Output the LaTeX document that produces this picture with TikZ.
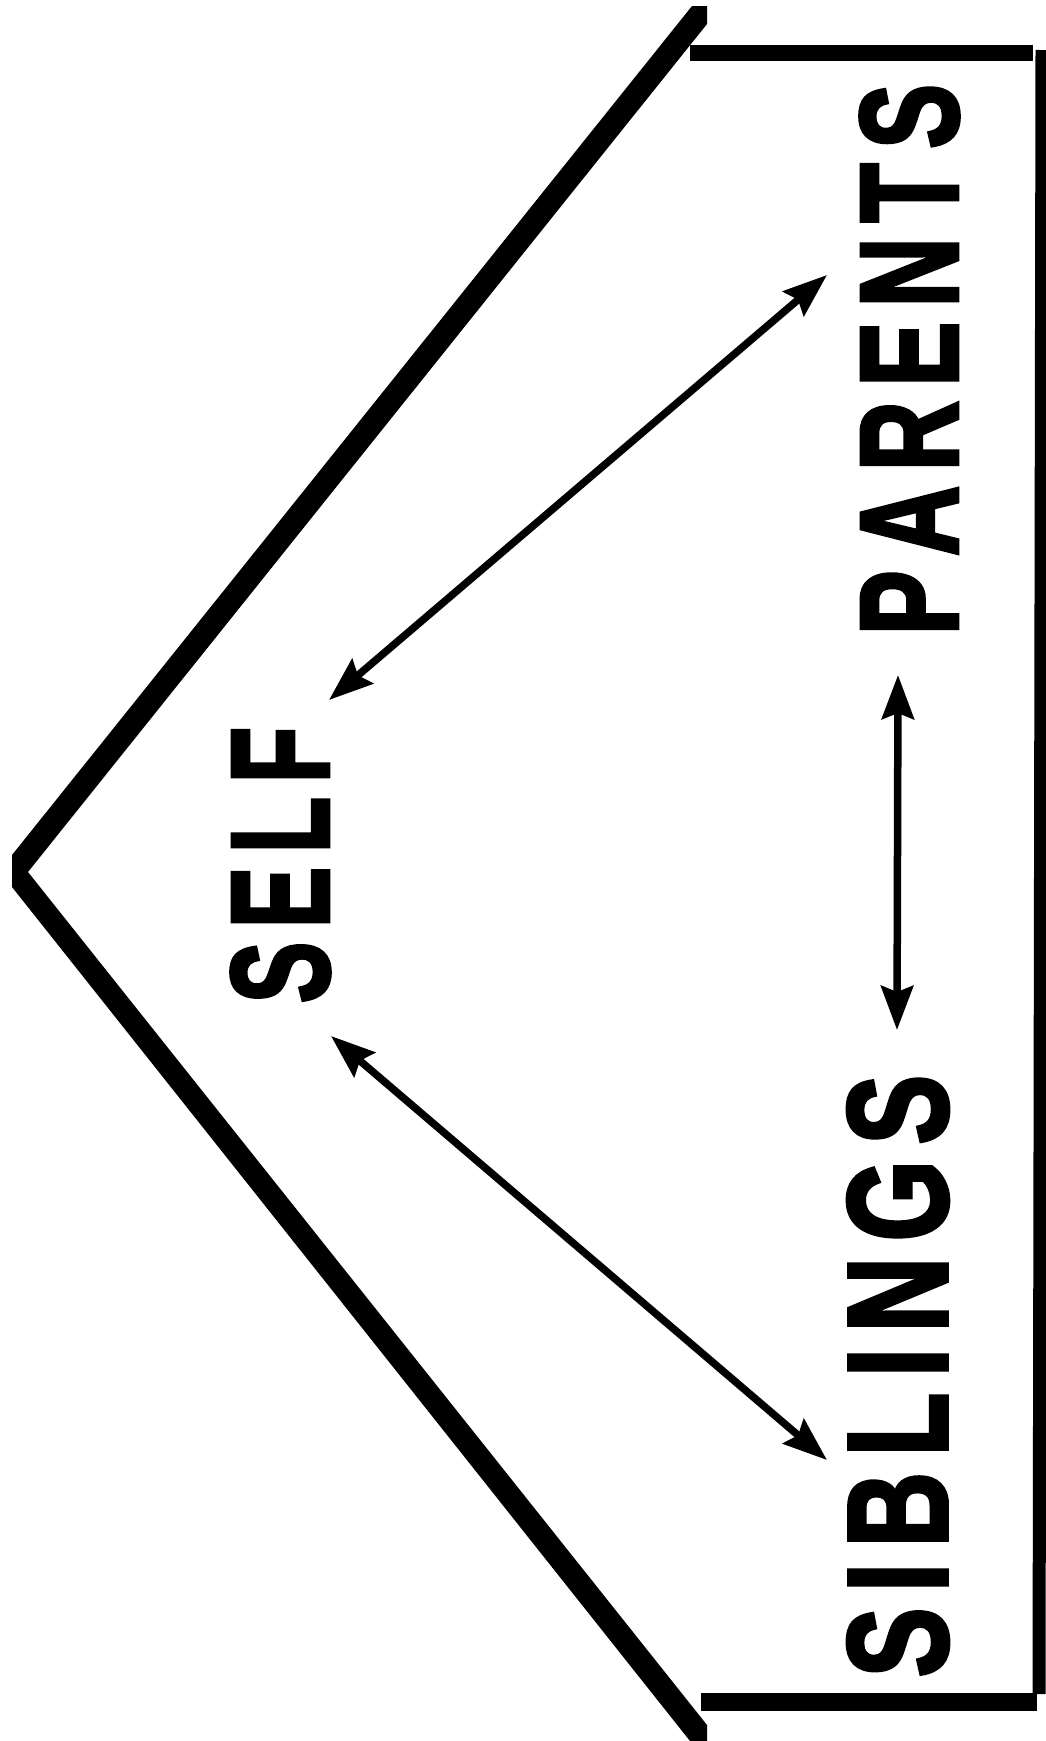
\documentclass[tikz,border=0pt]{standalone}
\usepackage{fontspec}
\usepackage{graphicx}
\usetikzlibrary{arrows.meta}
\newfontfamily\signfont{Liberation Sans}[FakeBold=3]
\newcommand{\gp}{\kern.15em}
\definecolor{ink}{HTML}{000000}

\begin{document}
\begin{tikzpicture}[x=1pt, y=-1pt,
    word/.style={font=\signfont\bfseries, text=ink, inner sep=0pt, rotate=90},
    link/.style={ink, line width=7.5pt,
      {Stealth[length=44pt,width=32pt,inset=6pt]}-{Stealth[length=44pt,width=32pt,inset=6pt]}},
    bar/.style={ink, line width=16pt}]
  \useasboundingbox (0,0) rectangle (1046,1741);

  % chevron
  \fill[ink] (692,6) -- (707,6) -- (707,24) -- (28,872) -- (707,1725) -- (707,1741)
    -- (690,1741) -- (12,887) -- (12,855) -- cycle;

  % bracket on the right
  \draw[bar] (690,53) -- (1033,53);
  \draw[bar, line width=18pt] (701,1702) -- (1037,1702);
  \draw[bar, line width=13pt] (1042,50) -- (1039,1694);

  % words
  \node[word] (self) at (280.5,865) {\resizebox{276pt}{97pt}{S\gp E\gp L\gp F}};
  \node[word] (parents) at (909.5,359.5) {\resizebox{551pt}{97pt}{P\gp A\gp R\gp E\gp N\gp T\gp S}};
  \node[word] (siblings) at (898,1376) {\resizebox{602pt}{99pt}{S\gp I\gp B\gp L\gp I\gp N\gp G\gp S}};

  % arrow ends
  \coordinate (selfP) at (329,700);
  \coordinate (parS) at (827,275);
  \coordinate (selfS) at (331,1036);
  \coordinate (sibS) at (827,1460);
  \coordinate (parB) at (898,675);
  \coordinate (sibP) at (897,1030);

  % arrows
  \draw[link] (selfP) -- (parS);
  \draw[link] (selfS) -- (sibS);
  \draw[link] (parB) -- (sibP);
\end{tikzpicture}
\end{document}
